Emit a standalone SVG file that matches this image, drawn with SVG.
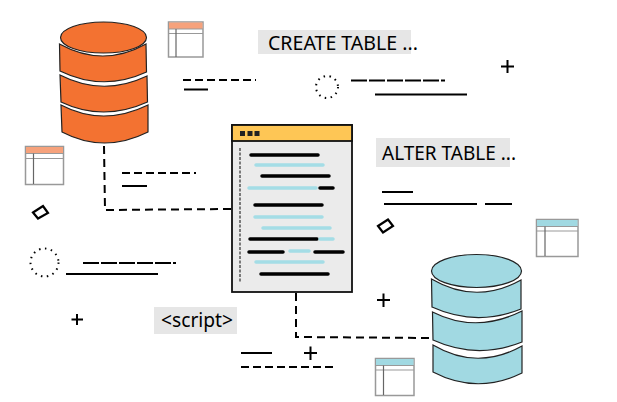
<svg xmlns="http://www.w3.org/2000/svg" width="617" height="402" viewBox="0 0 617 402">
<style>
.o{fill:#f37231;stroke:#222;stroke-width:1.2}
.b{fill:#a1d9e2;stroke:#222;stroke-width:1.2}
.tb{fill:#fff;stroke:#999;stroke-width:1.5}
.tl{fill:none;stroke:#999;stroke-width:1.2}
.tv{fill:none;stroke:#666;stroke-width:1.2}
.k{stroke:#000;stroke-width:2;fill:none}
.d{stroke:#000;stroke-width:2;fill:none;stroke-dasharray:8 4}
.cn{stroke:#000;stroke-width:2;fill:none;stroke-dasharray:8 5}
.ck{stroke:#000;stroke-width:3.500;stroke-linecap:round}
.cb{stroke:#a4dde6;stroke-width:3.500;stroke-linecap:round}
.lb{fill:#e6e6e6}
text{font-family:"Noto Sans","Open Sans",sans-serif;fill:#000}
.dot{fill:none;stroke:#000;stroke-width:2;stroke-dasharray:1.5 4.500}
.dm{fill:#fff;stroke:#000;stroke-width:2.200}
</style>
<g id="connectors">
<path class="cn" d="M104 146 L105 210 L231 209"/>
<path class="cn" d="M296 293 L296 337 L431 338"/>
</g>
<g id="db-orange">
<path class="o" d="M59.500 44 Q103 68 146 44 L146.500 72 Q103 92 60 71 Z"/>
<path class="o" d="M60 75 Q103 97 147 76 L147.500 102 Q103 122 61 102 Z"/>
<path class="o" d="M61 105 Q103 127 148 105 L148 132 Q104 154 62 132 Z"/>
<ellipse class="o" cx="103.500" cy="37.500" rx="43" ry="15.500"/>
</g>
<g id="db-blue">
<path class="b" d="M431.500 279 Q476 305 521 280 L521 309 Q476 327 432 307 Z"/>
<path class="b" d="M432.500 312 Q476 334 522 311 L522 342 Q477 360 433 340 Z"/>
<path class="b" d="M433 345 Q477 371 522 346 L522 373 Q477 395 433 372 Z"/>
<ellipse class="b" cx="476.500" cy="271" rx="45" ry="16.500"/>
</g>
<g id="table-top">
<rect class="tb" x="168.500" y="22" width="34.500" height="35"/>
<rect x="169" y="22.500" width="33.500" height="6.500" fill="#f6a27c"/>
<path class="tl" d="M168.500 29H203M168.500 33.500H203"/><path class="tv" d="M176 29V57"/>
</g>
<g id="table-left">
<rect class="tb" x="25.500" y="146.500" width="38" height="38"/>
<rect x="26" y="147" width="37" height="6.500" fill="#f6a27c"/>
<path class="tl" d="M25.500 153.500H63.500M25.500 158.500H63.500"/><path class="tv" d="M33.500 153.500V184"/>
</g>
<g id="table-right">
<rect class="tb" x="536.500" y="219.500" width="41.500" height="37"/>
<rect x="537" y="220" width="40.500" height="6.500" fill="#a1d9e2"/>
<path class="tl" d="M536.500 226.500H578M536.500 231H578"/><path class="tv" d="M545 226.500V256"/>
</g>
<g id="table-bottom">
<rect class="tb" x="375.500" y="358.500" width="38.500" height="37"/>
<rect x="376" y="359" width="37.500" height="6.500" fill="#a1d9e2"/>
<path class="tl" d="M375.500 365.500H414M375.500 370H414"/><path class="tv" d="M383.500 365.500V395"/>
</g>
<g id="window">
<rect x="232" y="125" width="120" height="167" fill="#ebebeb" stroke="#111" stroke-width="1.800"/>
<rect x="232" y="125" width="120" height="16" fill="#fec655" stroke="#111" stroke-width="1.800"/>
<path d="M240 131h5v5h-5zM247.500 131h5v5h-5zM254.500 131h5v5h-5z" fill="#222"/>
<path d="M240 148V283" stroke="#555" stroke-width="1.500" stroke-dasharray="3 1.500" fill="none"/>
<path class="ck" d="M251 155H318M262 176H329M320 188H333M255 205H322M250 239H317M249 252H283M315 252H343M261 274H328"/>
<path class="cb" d="M256 165H323M249 188H316M255 217H322M263 228H330M320 239H333M290 251H309M256 262H323"/>
</g>
<g id="label-create">
<rect class="lb" x="258" y="30" width="153" height="24"/>
<text x="268" y="50" font-size="20" textLength="150" lengthAdjust="spacingAndGlyphs">CREATE TABLE ...</text>
</g>
<g id="label-alter">
<rect class="lb" x="376" y="138" width="134" height="29"/>
<text x="382" y="160" font-size="20" textLength="134" lengthAdjust="spacingAndGlyphs">ALTER TABLE ...</text>
</g>
<g id="label-script">
<rect class="lb" x="154" y="307" width="83" height="27"/>
<text x="161" y="327" font-size="19" textLength="72" lengthAdjust="spacingAndGlyphs">&lt;script&gt;</text>
</g>
<g id="decor">
<path class="d" d="M183 80H256"/><path class="k" d="M184 89.500H208"/>
<path class="d" d="M122 173H196"/><path class="k" d="M122 186H147"/>
<circle class="dot" cx="327" cy="87" r="11"/>
<path class="k" stroke-dasharray="16 2" d="M351 80.500H445"/><path class="k" d="M375 94.500H467"/>
<path class="k" d="M501 66.500H514M507.500 60V73"/>
<path class="k" d="M382 192H413M384 204H477M485 204H512"/>
<path class="dm" d="M33 212.500L43 206L48 213L38 218.500Z"/>
<path class="dm" d="M378 226L388 219.500L393 226L383 232.500Z"/>
<circle class="dot" cx="44.500" cy="262.500" r="14"/>
<path class="k" stroke-dasharray="16 2" d="M83 263H176"/><path class="k" d="M66 274H158"/>
<path class="k" d="M71.500 319.500H83M77 314V325"/>
<path class="k" d="M377 300H390M383.500 293.500V307"/>
<path class="k" d="M304 353H317M310.500 346.500V360"/>
<path class="k" d="M241 353H272"/><path class="d" d="M241 367H335"/>
</g>
</svg>
